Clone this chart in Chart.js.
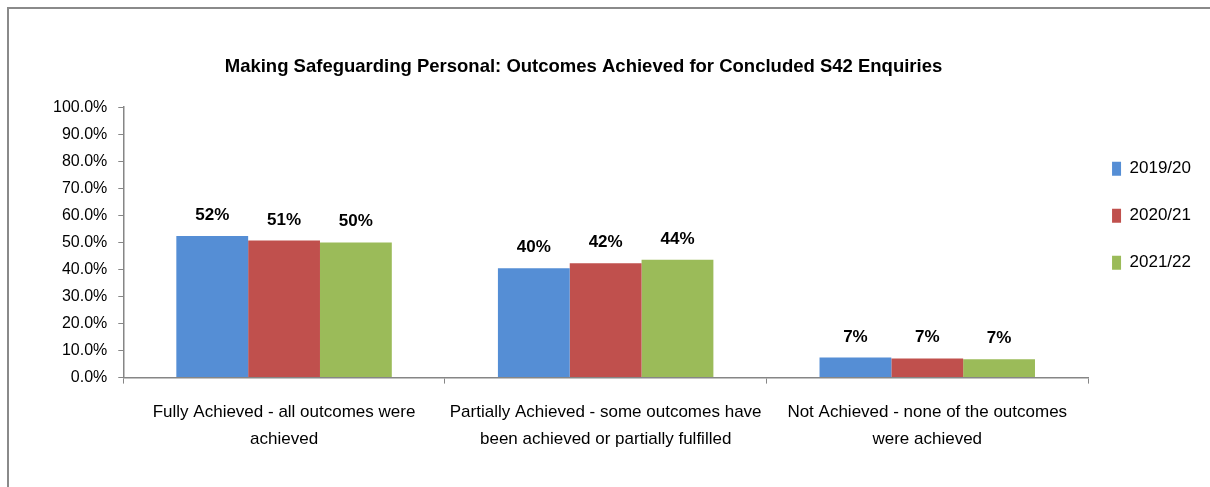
<!DOCTYPE html>
<html>
<head>
<meta charset="utf-8">
<script src="https://cdn.jsdelivr.net/npm/chart.js@4/dist/chart.umd.min.js"></script>
<style>
    body { margin: 0; background: #fff; }
    #wrap { position: relative; width: 1210px; height: 487px; }
    #frame {
        position: absolute; left: 7px; top: 7px; right: 0; bottom: 0;
        border-top: 2px solid #8a8a8a; border-left: 2px solid #8a8a8a;
        pointer-events: none;
    }
</style>
</head>
<body>
<div id="wrap">
    <canvas id="chart"></canvas>
    <div id="frame"></div>
</div>
<script>
var categories = [
    ["Fully Achieved - all outcomes were", "achieved"],
    ["Partially Achieved - some outcomes have", "been achieved or partially fulfilled"],
    ["Not Achieved - none of the outcomes", "were achieved"]
];
var seriesNames = ["2019/20", "2020/21", "2021/22"];
var values2019 = [52.4, 40.4, 7.4];
var values2020 = [50.7, 42.3, 7.1];
var values2021 = [50.0, 43.6, 6.8];
var seriesColors = ["#558ED5", "#C0504D", "#9BBB59"];
var titleText = "Making Safeguarding Personal: Outcomes Achieved for Concluded S42 Enquiries";

var FONT = "'Liberation Sans', Arial, sans-serif";
Chart.defaults.font.family = FONT;
Chart.defaults.color = "#000";

// value labels above each bar
var barLabels = {
    id: "barLabels",
    afterDatasetsDraw: function (chart) {
        var ctx = chart.ctx;
        ctx.save();
        ctx.font = "bold 17px " + FONT;
        ctx.fillStyle = "#000";
        ctx.textAlign = "center";
        ctx.textBaseline = "alphabetic";
        chart.data.datasets.forEach(function (ds, i) {
            chart.getDatasetMeta(i).data.forEach(function (bar, j) {
                ctx.fillText(Math.round(ds.data[j]) + "%", bar.x, bar.y - 16);
            });
        });
        ctx.restore();
    }
};

// title sits a bit left of centre, legend lower than the top
var placeBlocks = {
    id: "placeBlocks",
    afterLayout: function (chart) {
        chart.titleBlock.left = 0;
        chart.titleBlock.right = chart.width - 43;
        chart.legend.top = chart.chartArea.top + 23;
        chart.legend.left -= 6;
    }
};

var datasets = [values2019, values2020, values2021].map(function (vals, i) {
    return {
        label: seriesNames[i],
        data: vals,
        backgroundColor: seriesColors[i],
        borderWidth: 0
    };
});

new Chart(document.getElementById("chart"), {
    type: "bar",
    data: { labels: categories, datasets: datasets },
    plugins: [barLabels, placeBlocks],
    options: {
        responsive: true,
        maintainAspectRatio: false,
        animation: false,
        categoryPercentage: 0.67,
        barPercentage: 1,
        layout: { padding: { left: 42, right: 3, bottom: 19 } },
        plugins: {
            title: {
                display: true,
                text: titleText,
                font: { size: 18.5, weight: "bold" },
                color: "#000",
                padding: { top: 56, bottom: 29 }
            },
            legend: {
                position: "right",
                align: "start",
                labels: {
                    boxWidth: 9,
                    boxHeight: 14,
                    padding: 30,
                    font: { size: 17 }
                }
            },
            tooltip: { enabled: false }
        },
        scales: {
            x: {
                grid: { display: true, drawOnChartArea: false, tickLength: 6, color: "#868686" },
                border: { color: "#868686", width: 1.5 },
                ticks: { maxRotation: 0, autoSkip: false, padding: 15, font: { size: 17, lineHeight: 1.6 } }
            },
            y: {
                min: 0,
                max: 100,
                grid: { display: true, drawOnChartArea: false, tickLength: 5, color: "#868686" },
                border: { color: "#868686", width: 1.5 },
                ticks: {
                    stepSize: 10,
                    padding: 11,
                    font: { size: 16 },
                    callback: function (v) { return v.toFixed(1) + "%"; }
                }
            }
        }
    }
});
</script>
</body>
</html>
